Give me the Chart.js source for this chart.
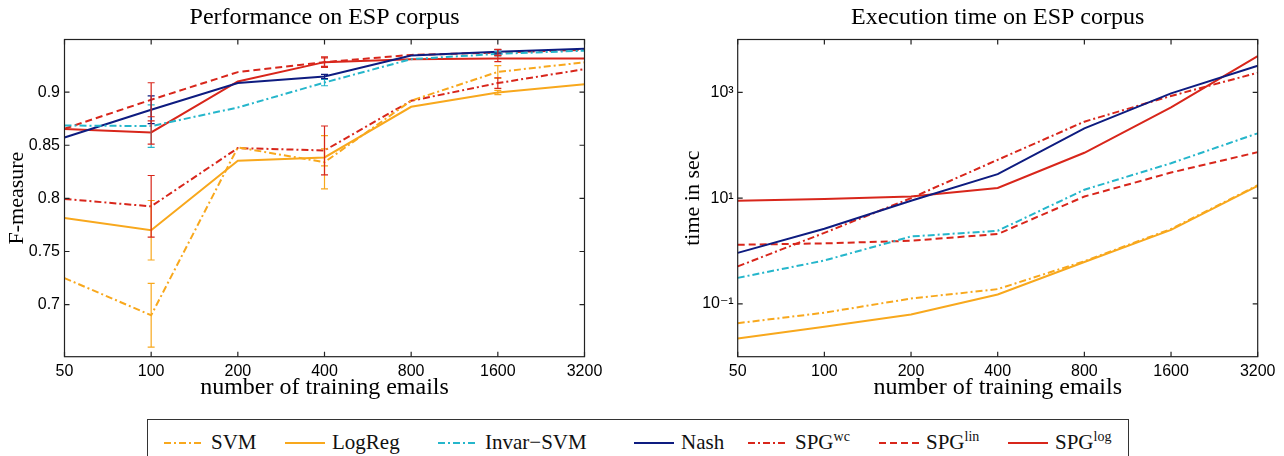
<!DOCTYPE html>
<html>
<head>
<meta charset="utf-8">
<script src="https://cdn.jsdelivr.net/npm/chart.js@4.4.1/dist/chart.umd.min.js"></script>
<style>
  body { margin: 0; background: #fff; width: 1284px; height: 456px; overflow: hidden; position: relative; }
  #perf { position: absolute; left: 0; top: 0; }
  #time { position: absolute; left: 660px; top: 0; }
  #legend { position: absolute; left: 147px; top: 419px; width: 982px; height: 46px; border: 1px solid #333; box-sizing: border-box; }
  .item { position: absolute; top: 0; height: 45px; display: flex; align-items: center; font-family: "Liberation Serif", serif; font-size: 21px; color: #111; white-space: nowrap; }
  .item svg { margin-right: 7px; }
  .item sup { font-size: 14px; vertical-align: 8px; line-height: 0; }
</style>
</head>
<body>
<canvas id="perf" width="649" height="410"></canvas>
<canvas id="time" width="624" height="410"></canvas>
<div id="legend"></div>

<script>
// x categories (number of training emails)
const emails = ['50', '100', '200', '400', '800', '1600', '3200'];

// F-measure per method
const svmF    = [0.725, 0.690, 0.848, 0.834, 0.892, 0.919, 0.928];
const logregF = [0.7815, 0.770, 0.8354, 0.8385, 0.8862, 0.8996, 0.9075];
const invarF  = [0.8686, 0.868, 0.8855, 0.909, 0.931, 0.936, 0.939];
const nashF   = [0.8573, 0.8834, 0.9085, 0.9147, 0.9345, 0.9379, 0.9407];
const spgWcF  = [0.7994, 0.7925, 0.8473, 0.8451, 0.8918, 0.9085, 0.9216];
const spgLinF = [0.8655, 0.8928, 0.9188, 0.9282, 0.935, 0.9372, 0.9398];
const spgLogF = [0.8652, 0.862, 0.910, 0.9282, 0.931, 0.9316, 0.9316];

// error bar half-widths (only at 100, 400, 1600)
const svmErr    = [null, 0.030, null, 0.025, null, 0.006, null];
const logregErr = [null, 0.028, null, 0.008, null, 0.002, null];
const invarErr  = [null, 0.020, null, 0.003, null, 0.002, null];
const nashErr   = [null, 0.013, null, 0.002, null, 0.002, null];
const spgWcErr  = [null, 0.029, null, 0.023, null, 0.005, null];
const spgLinErr = [null, 0.016, null, 0.004, null, 0.003, null];
const spgLogErr = [null, 0.011, null, 0.005, null, 0.003, null];

// execution time in seconds
const svmT    = [0.043, 0.068, 0.126, 0.19, 0.64, 2.6, 17.5];
const logregT = [0.022, 0.037, 0.063, 0.15, 0.62, 2.5, 17];
const invarT  = [0.31, 0.66, 1.88, 2.41, 14.4, 45.7, 168];
const nashT   = [0.92, 2.64, 8.9, 28.4, 209, 957, 3180];
const spgWcT  = [0.51, 2.2, 10, 53, 279, 855, 2350];
const spgLinT = [1.31, 1.39, 1.56, 2.09, 10.7, 30.4, 74];
const spgLogT = [8.9, 9.6, 10.7, 15.5, 72, 521, 4840];

// tick labels
const fTicks = [0.7, 0.75, 0.8, 0.85, 0.9];
const fTickLabels = ['0.7', '0.75', '0.8', '0.85', '0.9'];
const timeTicks = [0.1, 10, 1000];
const timeTickLabels = ['10\u207B\u00B9', '10\u00B9', '10\u00B3'];

const ORANGE = '#F8A81D', CYAN = '#25B6CB', NAVY = '#0E1C80', RED = '#D8261B';
const DASHDOT = [7, 3, 2, 3], DASHED = [7, 4];

const methods = [
  { name: 'SVM',       color: ORANGE, dash: DASHDOT, f: svmF,    err: svmErr,    t: svmT },
  { name: 'LogReg',    color: ORANGE, dash: [],      f: logregF, err: logregErr, t: logregT },
  { name: 'Invar\u2212SVM', color: CYAN, dash: DASHDOT, f: invarF, err: invarErr, t: invarT },
  { name: 'Nash',      color: NAVY,   dash: [],      f: nashF,   err: nashErr,   t: nashT },
  { name: 'SPG<sup>wc</sup>',  color: RED, dash: DASHDOT, f: spgWcF,  err: spgWcErr,  t: spgWcT },
  { name: 'SPG<sup>lin</sup>', color: RED, dash: DASHED,  f: spgLinF, err: spgLinErr, t: spgLinT },
  { name: 'SPG<sup>log</sup>', color: RED, dash: [],      f: spgLogF, err: spgLogErr, t: spgLogT }
];

// box, inward ticks and error bars, like a matlab axes
const frame = {
  id: 'frame',
  afterDatasetsDraw(chart) {
    const { ctx, chartArea: a, scales } = chart;
    ctx.save();
    chart.data.datasets.forEach(ds => {
      if (!ds.errors) return;
      ctx.strokeStyle = ds.borderColor;
      ctx.lineWidth = 1.2;
      ctx.setLineDash([]);
      ds.errors.forEach((e, i) => {
        if (e == null) return;
        const x = scales.x.getPixelForValue(i);
        const y1 = scales.y.getPixelForValue(ds.data[i] - e);
        const y2 = scales.y.getPixelForValue(ds.data[i] + e);
        ctx.beginPath();
        ctx.moveTo(x, y1); ctx.lineTo(x, y2);
        ctx.moveTo(x - 3.5, y1); ctx.lineTo(x + 3.5, y1);
        ctx.moveTo(x - 3.5, y2); ctx.lineTo(x + 3.5, y2);
        ctx.stroke();
      });
    });
    ctx.strokeStyle = '#222';
    ctx.lineWidth = 1.2;
    ctx.strokeRect(a.left, a.top, a.width, a.height);
    ctx.beginPath();
    scales.x.ticks.forEach((t, i) => {
      const x = scales.x.getPixelForTick(i);
      ctx.moveTo(x, a.bottom); ctx.lineTo(x, a.bottom - 5);
      ctx.moveTo(x, a.top); ctx.lineTo(x, a.top + 5);
    });
    scales.y.ticks.forEach((t, i) => {
      const y = scales.y.getPixelForTick(i);
      ctx.moveTo(a.left, y); ctx.lineTo(a.left + 5, y);
      ctx.moveTo(a.right, y); ctx.lineTo(a.right - 5, y);
    });
    ctx.stroke();
    ctx.restore();
  }
};

const tickFont = { family: "'Liberation Sans', 'DejaVu Sans', sans-serif", size: 16 };
const serif = "'Liberation Serif', 'DejaVu Serif', serif";

function makeChart(id, key, title, yTitle, yScale, yWidth, yTitlePad, rightPad) {
  return new Chart(document.getElementById(id), {
    type: 'line',
    data: {
      labels: emails,
      datasets: methods.map(m => ({
        label: m.name,
        data: m[key],
        errors: key === 'f' ? m.err : null,
        borderColor: m.color,
        borderDash: m.dash,
        borderWidth: 2,
        pointRadius: 0,
        tension: 0,
        fill: false
      }))
    },
    options: {
      responsive: false,
      animation: false,
      layout: { padding: { left: 0, right: rightPad, top: 0, bottom: 0 } },
      plugins: {
        legend: { display: false },
        tooltip: { enabled: false },
        title: {
          display: true, text: title, fullSize: false, color: '#000',
          font: { family: serif, size: 24, weight: 'normal' },
          padding: { top: 3, bottom: 7.7 }
        }
      },
      scales: {
        x: {
          offset: false,
          grid: { display: false, drawTicks: false },
          border: { display: false },
          ticks: { font: tickFont, color: '#000', padding: 5, maxRotation: 0, autoSkip: false },
          title: { display: true, text: 'number of training emails', color: '#000',
                   font: { family: serif, size: 24 }, padding: { top: 0, bottom: 7.6 } },
          afterFit: s => { s.height = 410 - 356.7; }
        },
        y: Object.assign({
          grid: { display: false, drawTicks: false },
          border: { display: false },
          title: { display: true, text: yTitle, color: '#000',
                   font: { family: serif, size: 22 }, padding: { top: yTitlePad, bottom: 0 } },
          afterFit: s => { s.width = yWidth; }
        }, yScale)
      }
    },
    plugins: [frame]
  });
}

makeChart('perf', 'f', 'Performance on ESP corpus', 'F-measure', {
  type: 'linear', min: 0.651, max: 0.9495,
  afterBuildTicks: s => { s.ticks = fTicks.map(v => ({ value: v })); },
  ticks: { font: tickFont, color: '#000', padding: 4.5, callback: (v, i) => fTickLabels[i] }
}, 64.5, 3.8, 64.5);

makeChart('time', 't', 'Execution time on ESP corpus', 'time in sec', {
  type: 'logarithmic', min: 0.01, max: 10000,
  afterBuildTicks: s => { s.ticks = timeTicks.map(v => ({ value: v })); },
  ticks: { font: tickFont, color: '#000', padding: 4, callback: (v, i) => timeTickLabels[i] }
}, 77.7, 19.8, 26.3);

// legend row
const legendLeft = [16, 137, 290, 486, 600, 731, 860];
const legend = document.getElementById('legend');
methods.forEach((m, i) => {
  const el = document.createElement('div');
  el.className = 'item';
  el.style.left = legendLeft[i] + 'px';
  el.innerHTML = '<svg width="40" height="4"><line x1="0" y1="2" x2="40" y2="2" stroke="' + m.color +
    '" stroke-width="2" stroke-dasharray="' + (m.dash.length ? m.dash.join(' ') : 'none') + '"/></svg>' +
    '<span>' + m.name + '</span>';
  legend.appendChild(el);
});
</script>
</body>
</html>
